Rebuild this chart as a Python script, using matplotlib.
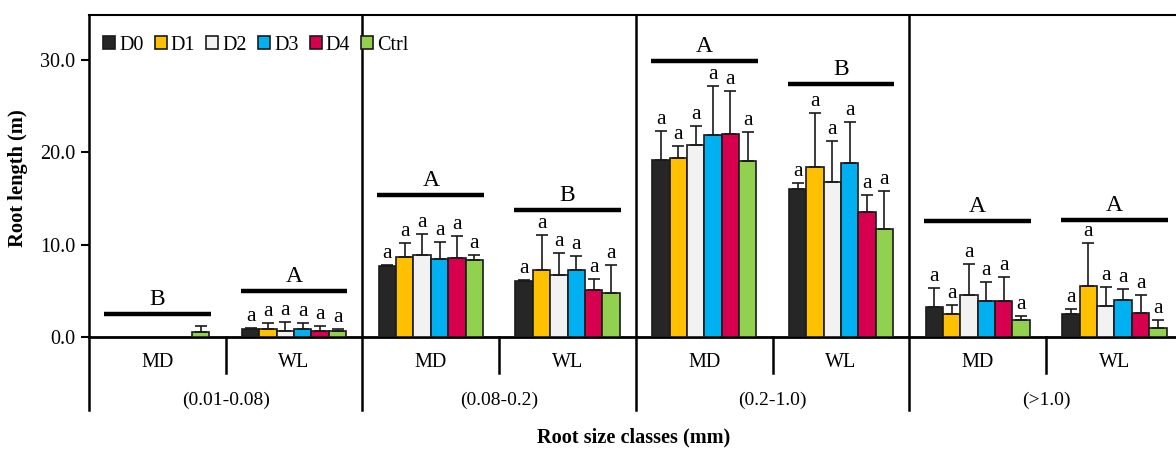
import matplotlib
matplotlib.use("Agg")
import matplotlib.pyplot as plt
from matplotlib.patches import Patch
import numpy as np

plt.rcParams['font.family'] = ['Liberation Serif', 'DejaVu Serif']

# subgroups: MD / WL inside each root size class
classes = ['(0.01-0.08)', '(0.08-0.2)', '(0.2-1.0)', '(>1.0)']
sites = ['MD', 'WL']
treatments = ['D0', 'D1', 'D2', 'D3', 'D4', 'Ctrl']
colors = ['#262626', '#FFC000', '#F2F2F2', '#00B0F0', '#D6004F', '#92D050']

# mean root length (m), one list per treatment, 8 subgroups each
d0 = [0, 0.87, 7.69, 6.03, 19.14, 16.03, 3.29, 2.52]
d1 = [0, 0.87, 8.67, 7.30, 19.43, 18.46, 2.52, 5.52]
d2 = [0, 0.60, 8.85, 6.76, 20.80, 16.83, 4.55, 3.36]
d3 = [0, 0.85, 8.45, 7.30, 21.93, 18.85, 3.90, 4.00]
d4 = [0, 0.70, 8.60, 5.13, 22.04, 13.54, 3.94, 2.60]
ctrl = [0.54, 0.68, 8.31, 4.77, 19.10, 11.70, 1.81, 1.00]

# standard deviations
d0_sd = [0, 0.10, 0.15, 0.19, 3.22, 0.65, 2.06, 0.55]
d1_sd = [0, 0.63, 1.51, 3.72, 1.30, 5.78, 0.98, 4.68]
d2_sd = [0, 1.00, 2.35, 2.34, 2.06, 4.37, 3.40, 2.09]
d3_sd = [0, 0.65, 1.81, 1.52, 5.23, 4.41, 2.06, 1.20]
d4_sd = [0, 0.50, 2.34, 1.20, 4.66, 1.84, 2.60, 1.95]
ctrl_sd = [0.61, 0.19, 0.62, 3.00, 3.10, 4.12, 0.50, 0.80]

means = [d0, d1, d2, d3, d4, ctrl]
sds = [d0_sd, d1_sd, d2_sd, d3_sd, d4_sd, ctrl_sd]

# letters over bars (same within a subgroup) and group comparison letters
bar_letters = ['', 'a', 'a', 'a', 'a', 'a', 'a', 'a']
group_letters = ['B', 'A', 'A', 'B', 'A', 'B', 'A', 'A']
group_heights = [2.45, 5.0, 15.4, 13.8, 29.9, 27.4, 12.6, 12.7]

fig = plt.figure(figsize=(11.76, 4.5), dpi=100)
ax = fig.add_axes([89/1176, 1 - 337/450, 1 - 89/1176, 322/450])

n = len(group_letters)
w = 0.127
centers = np.arange(n) + 0.5

for k, (m, s) in enumerate(zip(means, sds)):
    x = centers + (k - 2.5) * w
    m = np.array(m)
    s = np.array(s)
    ax.bar(x, m, width=w, color=colors[k], edgecolor='#1a1a1a', linewidth=1.2,
           zorder=3, label=treatments[k])
    show = m > 0
    ax.errorbar(x[show], m[show], yerr=[np.zeros(show.sum()), s[show]], fmt='none',
                ecolor='#1a1a1a', elinewidth=1.2, capsize=4, capthick=1.2, zorder=4)
    for xi, mi, si, g in zip(x, m, s, range(n)):
        if bar_letters[g] and mi > 0:
            ax.annotate(bar_letters[g], (xi, mi + si), xytext=(0, 1.5),
                        textcoords='offset points', ha='center', va='bottom',
                        fontsize=15.5)

for g in range(n):
    ax.plot([centers[g] - 0.39, centers[g] + 0.39], [group_heights[g]] * 2,
            color='black', lw=3.2, solid_capstyle='butt', zorder=5)
    ax.annotate(group_letters[g], (centers[g], group_heights[g]), xytext=(0, 3),
                textcoords='offset points', ha='center', va='bottom', fontsize=17)

ax.set_xlim(0, 7.95)
ax.set_ylim(0, 34.9)
ax.set_yticks([0, 10, 20, 30])
ax.set_yticklabels(['%.1f' % v for v in [0, 10, 20, 30]], fontsize=14.5)
ax.tick_params(axis='y', direction='out', length=6, width=1.5, pad=4)
ax.set_xticks([])

ax.spines['right'].set_visible(False)
ax.spines['top'].set_linewidth(1.5)
ax.spines['left'].set_linewidth(1.8)
ax.spines['bottom'].set_linewidth(2)

xt = ax.get_xaxis_transform()
# class dividers run through the plot and down through the label rows
for b in [2, 4, 6]:
    ax.plot([b, b], [1, -0.227], color='black', lw=1.8, transform=xt, clip_on=False)
ax.plot([0, 0], [0, -0.227], color='black', lw=1.8, transform=xt, clip_on=False)
# MD / WL dividers
for b in [1, 3, 5, 7]:
    ax.plot([b, b], [0, -0.112], color='black', lw=1.8, transform=xt, clip_on=False)

for g in range(n):
    ax.text(centers[g], -0.078, sites[g % 2], transform=xt, ha='center', va='center',
            fontsize=14.5)
for c, lab in enumerate(classes):
    ax.text(2 * c + 1, -0.196, lab, transform=xt, ha='center', va='center', fontsize=14)

fig.text(18/1176, 1 - 178/450, 'Root length (m)', rotation=90, ha='center', va='center',
         fontsize=14.8, fontweight='bold')
fig.text(634/1176, 1 - 437/450, 'Root size classes (mm)', ha='center', va='center',
         fontsize=14.6, fontweight='bold')

handles = [Patch(facecolor=c, edgecolor='#1a1a1a', linewidth=1.2) for c in colors]
ax.legend(handles, treatments, loc='upper left', ncol=6, frameon=False, fontsize=14.5,
          handlelength=0.6, handleheight=0.6, handletextpad=0.2, columnspacing=0.55,
          borderaxespad=0.3, bbox_to_anchor=(0.0, 0.98))

fig.savefig('out.png', dpi=100)
